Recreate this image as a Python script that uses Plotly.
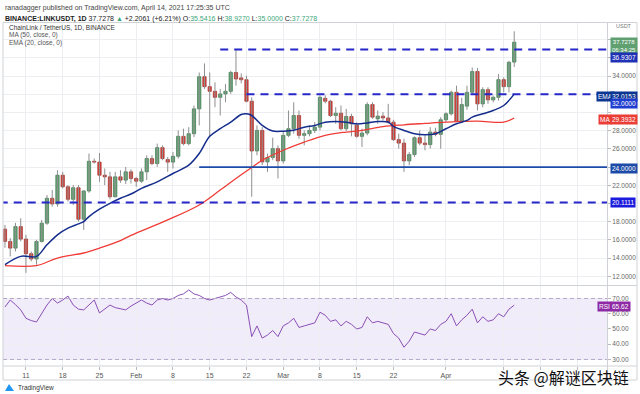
import pandas as pd
import plotly.graph_objects as go

# ---------------- data ----------------
dates = pd.date_range("2021-01-07", periods=98, freq="D")
opens = [17.18, 15.83, 15.10, 17.46, 16.09, 14.48, 13.90, 15.83, 17.84, 20.57,
         19.95, 23.11, 21.84, 20.46, 21.73, 18.27, 21.37, 24.64, 24.55, 23.11,
         22.93, 20.74, 22.93, 22.57, 23.48, 22.75, 22.45, 23.48, 24.94, 24.39,
         26.14, 24.83, 24.55, 25.19, 27.38, 26.58, 27.67, 30.40, 33.93, 32.84,
         32.33, 31.67, 32.04, 32.33, 34.40, 33.80, 33.60, 31.24, 25.77, 28.03,
         24.57, 25.05, 26.03, 24.68, 27.49, 28.22, 29.67, 27.49, 27.67, 28.03,
         28.39, 31.56, 31.24, 29.67, 29.92, 28.22, 29.56, 28.60, 27.38, 27.74,
         30.87, 29.30, 29.60, 29.40, 28.94, 27.02, 26.64, 24.68, 25.38, 27.23,
         26.64, 26.47, 27.85, 27.60, 29.20, 29.86, 32.22, 29.05, 30.70, 32.22,
         34.51, 30.95, 32.51, 31.39, 31.67, 33.61, 32.84, 35.5416]
highs = [17.65, 16.20, 17.87, 18.38, 16.56, 14.73, 16.01, 18.20, 20.93, 21.48,
         23.66, 23.48, 22.02, 22.02, 22.02, 21.48, 25.49, 24.94, 25.55, 23.85,
         23.48, 23.48, 23.66, 24.02, 23.75, 22.93, 23.85, 25.30, 25.30, 26.58,
         26.39, 25.11, 25.66, 28.03, 28.22, 28.39, 30.77, 34.40, 35.39, 34.40,
         33.31, 32.59, 33.14, 34.59, 36.93, 34.30, 34.04, 31.67, 28.58, 28.39,
         25.49, 27.23, 26.39, 27.85, 30.22, 31.13, 30.22, 28.03, 28.58, 28.94,
         31.86, 31.90, 31.39, 30.58, 30.77, 30.40, 29.86, 28.90, 28.22, 31.13,
         31.13, 30.22, 30.03, 30.95, 29.20, 27.67, 27.12, 25.66, 27.38, 28.03,
         27.49, 28.39, 28.33, 29.49, 30.03, 32.40, 32.95, 31.61, 32.95, 34.95,
         34.89, 32.77, 32.77, 31.86, 34.23, 33.86, 35.68, 38.9270]
lows = [15.14, 14.19, 14.73, 15.83, 12.37, 13.64, 13.28, 15.72, 17.65, 19.65,
        19.65, 21.66, 20.20, 19.84, 18.01, 17.10, 21.18, 24.39, 22.38, 22.02,
        20.46, 20.68, 22.27, 22.13, 22.20, 21.84, 22.27, 22.57, 24.21, 24.02,
        24.75, 23.48, 23.85, 24.94, 26.39, 26.39, 27.30, 28.58, 32.59, 27.30,
        30.58, 29.67, 31.13, 32.04, 32.95, 33.20, 31.13, 20.74, 25.30, 24.21,
        23.48, 24.75, 22.75, 24.39, 27.30, 27.67, 27.12, 26.39, 27.38, 27.74,
        28.03, 31.00, 29.49, 28.76, 28.03, 27.96, 27.38, 27.23, 26.21, 27.49,
        29.31, 28.76, 29.13, 28.76, 26.86, 26.03, 23.48, 24.21, 25.11, 26.39,
        25.85, 26.03, 27.38, 26.03, 28.94, 29.67, 28.94, 28.94, 30.30, 32.04,
        30.22, 30.58, 30.95, 31.13, 31.31, 32.22, 32.22, 35.0000]
closes = [15.83, 15.10, 17.46, 16.09, 14.48, 13.90, 15.83, 17.84, 20.57, 19.95,
          23.11, 21.84, 20.46, 21.73, 18.27, 21.37, 24.64, 24.55, 23.11, 22.93,
          20.74, 22.93, 22.57, 23.48, 22.75, 22.45, 23.48, 24.94, 24.39, 26.14,
          24.94, 24.55, 25.19, 27.38, 26.58, 27.67, 30.40, 33.93, 32.84, 32.33,
          31.67, 32.04, 32.33, 34.40, 33.68, 33.60, 31.24, 25.77, 28.03, 24.57,
          25.05, 26.03, 24.68, 27.49, 28.22, 29.67, 27.49, 27.67, 28.03, 28.39,
          31.67, 31.24, 29.67, 29.92, 28.22, 29.56, 28.76, 27.38, 27.74, 30.87,
          29.49, 29.60, 29.40, 28.94, 27.02, 26.64, 24.68, 25.38, 27.23, 26.64,
          26.47, 27.85, 27.60, 29.20, 29.86, 32.22, 29.05, 30.87, 32.22, 34.51,
          30.95, 32.51, 31.39, 31.67, 33.61, 32.84, 35.5217, 37.7278]

ema_idx = [0, 3, 6, 8, 10, 12, 14, 15, 16, 18, 20, 22, 24, 26, 29, 32, 35, 37, 39,
           41, 43, 45, 46, 47, 49, 51, 53, 55, 57, 59, 61, 63, 65, 67, 69, 71, 73,
           74, 76, 78, 80, 82, 84, 86, 88, 89, 91, 93, 95, 97]
ema_val = [13.28, 14.19, 14.19, 15.46, 16.56, 17.29, 17.76, 18.01, 18.56, 19.37,
           20.02, 20.57, 21.04, 21.66, 22.38, 23.30, 24.21, 25.49, 27.38, 28.22,
           28.94, 29.78, 29.86, 29.67, 28.58, 27.96, 27.95, 28.05, 28.39, 28.58,
           28.94, 29.02, 28.94, 28.75, 28.85, 29.00, 28.95, 28.47, 28.03, 27.67,
           27.56, 27.67, 28.22, 28.76, 29.13, 29.49, 29.86, 30.22, 30.77, 32.0153]
ma_idx = [0, 6, 10, 15, 18, 22, 24, 31, 37, 41, 44, 47, 49, 53, 57, 61, 65, 68,
          72, 76, 80, 84, 90, 95, 97]
ma_val = [13.17, 13.17, 14.01, 14.56, 15.10, 15.93, 16.50, 18.20, 19.84, 21.48,
          22.75, 23.96, 24.75, 25.85, 26.75, 27.49, 27.85, 28.03, 28.45, 28.65,
          28.80, 28.94, 29.05, 28.94, 29.3932]

rsi_val = [64.4, 69.0, 66.0, 62.5, 57.0, 55.5, 54.6, 60.0, 65.7, 70.0,
           67.0, 69.0, 71.6, 65.7, 63.0, 62.5, 66.0, 69.0, 60.5, 63.0,
           65.7, 64.0, 63.0, 62.5, 65.0, 67.0, 69.0, 67.0, 65.7, 69.0,
           70.0, 69.0, 70.0, 72.0, 73.0, 75.6, 73.0, 72.0, 70.0, 69.0,
           70.0, 71.0, 72.0, 74.0, 71.0, 69.0, 65.7, 45.0, 52.0, 44.0,
           46.0, 49.0, 45.0, 52.0, 54.0, 57.0, 51.0, 52.0, 53.0, 54.0,
           61.0, 59.0, 55.0, 56.0, 52.0, 55.0, 53.0, 50.0, 51.0, 58.0,
           54.0, 55.0, 54.0, 53.0, 47.0, 44.0, 38.0, 42.0, 48.0, 47.0,
           46.0, 50.0, 49.0, 53.0, 55.0, 60.0, 52.0, 56.0, 59.0, 63.0,
           54.0, 58.0, 55.0, 56.0, 60.0, 58.0, 63.0, 65.62]

level_vals = [36.9307, 32.0, 24.0, 20.1111]
level_start = ["2021-02-17", "2021-02-22", "2021-02-13", "2021-01-06"]
level_dash = ["8px,6px", "8px,6px", "solid", "8px,6px"]
level_color = ["#2727c9", "#2727c9", "#1d4ba8", "#2727c9"]

price_ticks = [12, 14, 16, 18, 20, 22, 24, 26, 28, 30, 32, 34, 36, 38]
price_shown = [12, 14, 16, 18, 22, 26, 28, 34]
rsi_ticks = [30, 40, 50, 60, 70]

tick_dates = ["2021-01-11", "2021-01-18", "2021-01-25", "2021-02-01", "2021-02-08",
              "2021-02-15", "2021-02-22", "2021-03-01", "2021-03-08", "2021-03-15",
              "2021-03-22", "2021-04-01", "2021-04-12", "2021-04-19", "2021-04-26"]
tick_text = ["11", "18", "25", "Feb", "8", "15", "22", "Mar", "8", "15", "22", "Apr",
             "", "", ""]

# ---------------- geometry helpers ----------------
W, H = 640, 394
L, R, T, B = 3, 33, 23, 28
PW, PH = W - L - R, H - T - B


def px(xp, yp):
    return (xp - L) / PW, (H - B - yp) / PH


x_start = pd.Timestamp("2021-01-07") - pd.Timedelta(hours=9)
x_end = x_start + pd.Timedelta(days=PW / 5.25)

GREEN, GREEN_L = "#66a677", "#3f7d52"
RED, RED_L = "#d7463e", "#a9322c"

fig = go.Figure()

# wicks
wx, wy = [], []
for d, lo, hi in zip(dates, lows, highs):
    wx += [d, d, None]
    wy += [lo, hi, None]
fig.add_trace(go.Scatter(x=wx, y=wy, mode="lines", line=dict(color="#8f8f8f", width=1),
                         hoverinfo="skip", showlegend=False))

# bodies
base = [min(o, c) for o, c in zip(opens, closes)]
height = [max(abs(c - o), 0.06) for o, c in zip(opens, closes)]
fill = [GREEN if c >= o else RED for o, c in zip(opens, closes)]
edge = [GREEN_L if c >= o else RED_L for o, c in zip(opens, closes)]
fig.add_trace(go.Bar(x=dates, y=height, base=base, width=0.62 * 86400000,
                     marker=dict(color=fill, line=dict(color=edge, width=0.8)),
                     showlegend=False, hoverinfo="skip"))

# MA / EMA
fig.add_trace(go.Scatter(x=[dates[i] for i in ma_idx], y=ma_val, mode="lines",
                         line=dict(color="#ef3b36", width=1.3, shape="spline"),
                         showlegend=False))
fig.add_trace(go.Scatter(x=[dates[i] for i in ema_idx], y=ema_val, mode="lines",
                         line=dict(color="#142c8c", width=1.5, shape="spline"),
                         showlegend=False))

# RSI
fig.add_trace(go.Scatter(x=dates, y=rsi_val, mode="lines", xaxis="x2", yaxis="y2",
                         line=dict(color="#8a4fb5", width=1), showlegend=False))

shapes = []
for v, s, dsh, col in zip(level_vals, level_start, level_dash, level_color):
    shapes.append(dict(type="line", xref="x", yref="y", x0=s, x1=x_end, y0=v, y1=v,
                       line=dict(color=col, width=2 if dsh != "solid" else 1.6, dash=dsh)))
# RSI band
shapes.append(dict(type="rect", xref="paper", yref="y2", x0=0, x1=1, y0=30, y1=70,
                   fillcolor="rgba(150,110,210,0.13)", line=dict(width=0), layer="below"))
for v in (30, 70):
    shapes.append(dict(type="line", xref="paper", yref="y2", x0=0, x1=1, y0=v, y1=v,
                       line=dict(color="#b7a7c9", width=1, dash="4px,3px")))


def pline(x0, y0, x1, y1, color="#cfd2d6", width=1):
    a0 = px(x0, y0)
    a1 = px(x1, y1)
    shapes.append(dict(type="line", xref="paper", yref="paper", x0=a0[0], y0=a0[1],
                       x1=a1[0], y1=a1[1], line=dict(color=color, width=width)))


pline(3, 22.5, 637, 22.5)
pline(3, 22.5, 3, 380)
pline(637, 22.5, 637, 380)
pline(3, 380, 637, 380)
pline(607.5, 22.5, 607.5, 380)
pline(3, 366, 637, 366)
pline(3, 285.5, 637, 285.5)

annotations = []


def text(xp, yp, s, size=7, color="#555", xanchor="left", family="Liberation Sans", **kw):
    a = px(xp, yp)
    annotations.append(dict(x=a[0], y=a[1], xref="paper", yref="paper", text=s,
                            showarrow=False, xanchor=xanchor, yanchor="middle",
                            font=dict(size=size, color=color, family=family), **kw))


def box(yp, s, bg, xp=610, size=6.5):
    a = px(xp, yp)
    annotations.append(dict(x=a[0], y=a[1], xref="paper", yref="paper", text=s,
                            showarrow=False, xanchor="left", yanchor="middle",
                            bgcolor=bg, borderpad=1, align="center",
                            font=dict(size=size, color="white", family="Liberation Sans")))


# header
text(3, 8, "ranadagger published on TradingView.com, April 14, 2021 17:25:35 UTC", 7, "#444")
g = "#3aa77a"
text(3, 18.5, "<b>BINANCE:LINKUSDT, 1D</b> 37.7278 <span style='color:%s'>▲</span> +2.2061 (+6.21%%) "
     "O:<span style='color:%s'>35.5416</span> H:<span style='color:%s'>38.9270</span> "
     "L:<span style='color:%s'>35.0000</span> C:<span style='color:%s'>37.7278</span>" % (g, g, g, g, g),
     7, "#222")
text(7, 27.5, "ChainLink / TetherUS, 1D, BINANCE", 6.5, "#333")
text(7, 35, "MA (50, close, 0)", 6.5, "#555")
text(7, 42.5, "EMA (20, close, 0)", 6.5, "#555")

# right axis tags
text(614, 25.5, "USDT", 5.5, "#777")
box(46.5, "37.7278<br>06:34:25", "#5f9f70", size=6)
box(57.5, "36.9307", "#1f31b5")
box(96.5, "EMA", "#0d3592", xp=596)
box(96.5, "32.0153", "#0d3592")
box(104, "32.0000", "#1f3dcf")
box(119.5, "MA", "#ea3d36", xp=598)
box(119.5, "29.3932", "#ea3d36")
box(168.5, "24.0000", "#1c4aa6")
box(203, "20.1111", "#1b1bdd")
box(306.5, "RSI", "#8e2aa5", xp=597)
box(306.5, "65.62", "#8e2aa5")

# footer
text(16, 388, "TradingView", 6.5, "#333")
shapes.append(dict(type="path", xref="paper", yref="paper",
                   path="M %f %f L %f %f L %f %f Z" % (*px(5, 391), *px(9, 384), *px(14, 391)),
                   fillcolor="#2196f3", line=dict(width=0)))
text(563, 377, "头条 @解谜区块链", 16, "#111", xanchor="center", family="Noto Sans CJK SC")

grid = "#eceef1"
fig.update_layout(
    width=W, height=H, margin=dict(l=L, r=R, t=T, b=B),
    paper_bgcolor="white", plot_bgcolor="white", barmode="overlay",
    showlegend=False, shapes=shapes, annotations=annotations,
    xaxis=dict(domain=[0, 1], anchor="y", range=[x_start, x_end], showticklabels=False,
               tickvals=tick_dates, showgrid=True, gridcolor=grid, zeroline=False,
               showline=False, fixedrange=True),
    xaxis2=dict(domain=[0, 1], anchor="y2", matches="x", range=[x_start, x_end],
                tickvals=tick_dates, ticktext=tick_text, showgrid=True, gridcolor=grid,
                tickfont=dict(size=7, color="#555", family="Liberation Sans"),
                ticks="outside", ticklen=3, tickcolor="#bbb", showline=False),
    yaxis=dict(domain=[(H - B - 285) / PH, 1], range=[11.044, 39.835], side="right",
               tickvals=price_ticks,
               ticktext=["%.4f" % v if v in price_shown else "" for v in price_ticks],
               tickfont=dict(size=6.5, color="#666", family="Liberation Sans"),
               ticks="outside", ticklen=3, tickcolor="#bbb",
               showgrid=True, gridcolor=grid, zeroline=False),
    yaxis2=dict(domain=[0, (H - B - 286) / PH], range=[25.7, 78.2], side="right",
                tickvals=rsi_ticks, ticktext=["%.2f" % v for v in rsi_ticks],
                tickfont=dict(size=6.5, color="#666", family="Liberation Sans"),
                ticks="outside", ticklen=3, tickcolor="#bbb",
                showgrid=True, gridcolor=grid, zeroline=False),
)

fig.write_html("out.html", config={"displayModeBar": False},
               post_script="document.body.style.margin='0';document.body.style.overflow='hidden';")
